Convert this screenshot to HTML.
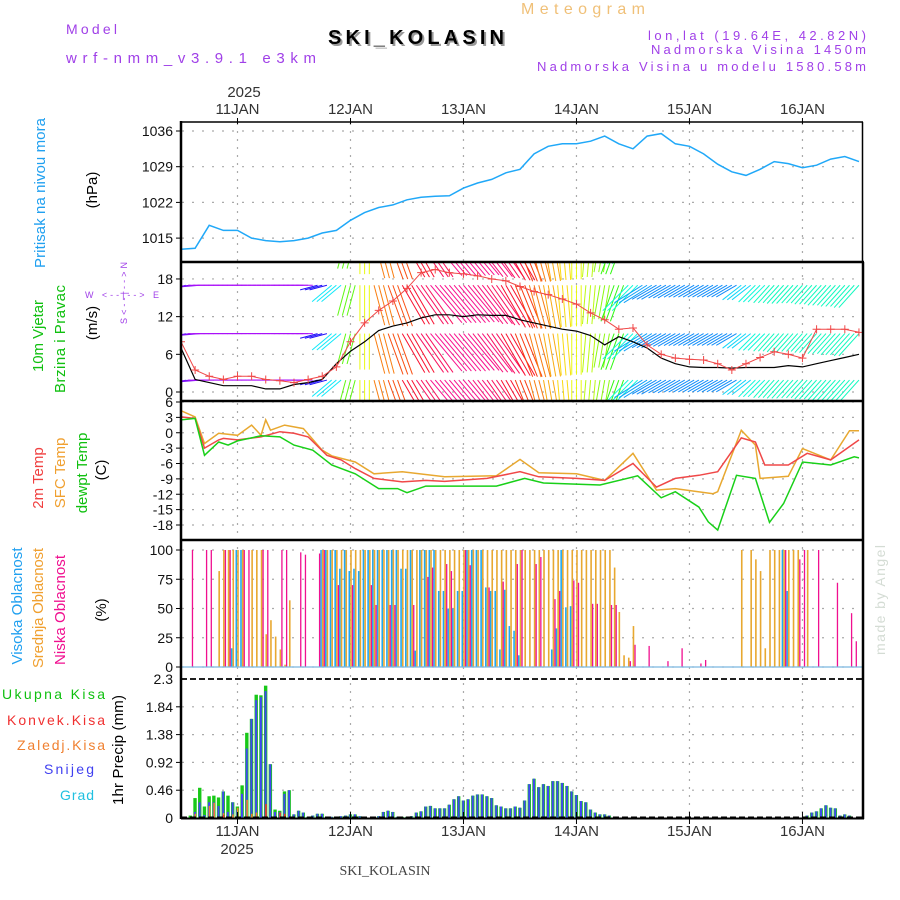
<!DOCTYPE html>
<html><head><meta charset="utf-8">
<style>
html,body{margin:0;padding:0;background:#fff;}
svg{display:block;font-family:"Liberation Sans",sans-serif;}
</style></head>
<body>
<svg id="chart" width="900" height="900" viewBox="0 0 900 900" xmlns="http://www.w3.org/2000/svg">
<defs>
<clipPath id="clipWind"><rect x="182" y="263" width="680" height="137"/></clipPath>
<clipPath id="clipAll"><rect x="182" y="122" width="680" height="696"/></clipPath>
</defs>
<g id="gridLayer"></g>
<g id="dataLayer"></g>
<g id="frameLayer"></g>
<g id="textLayer" font-family="Liberation Sans, sans-serif">
  <text x="66" y="34" font-size="14" fill="#a040e8" textLength="51">Model</text>
  <text x="66" y="63" font-size="15" fill="#a040e8" textLength="250">wrf-nmm_v3.9.1 e3km</text>
  <text x="521" y="14" font-size="16" fill="#f0c078" textLength="124">Meteogram</text>
  <text x="330" y="46" font-size="20" font-weight="bold" fill="#999" textLength="176">SKI_KOLASIN</text>
  <text x="328" y="44" font-size="20" font-weight="bold" fill="#000" textLength="176">SKI_KOLASIN</text>
  <text x="866" y="40" font-size="13" fill="#a040e8" text-anchor="end" textLength="218">lon,lat (19.64E, 42.82N)</text>
  <text x="866" y="54" font-size="13" fill="#a040e8" text-anchor="end" textLength="215">Nadmorska Visina 1450m</text>
  <text x="866" y="71" font-size="13" fill="#a040e8" text-anchor="end" textLength="329">Nadmorska Visina u modelu 1580.58m</text>

  <text transform="translate(45,193) rotate(-90)" text-anchor="middle" font-size="15" fill="#20a0f0" textLength="150">Pritisak na nivou mora</text>
  <text transform="translate(97,190) rotate(-90)" text-anchor="middle" font-size="15" fill="#000">(hPa)</text>

  <text transform="translate(43,336) rotate(-90)" text-anchor="middle" font-size="15" fill="#10c010" textLength="72">10m Vjetar</text>
  <text transform="translate(65,339) rotate(-90)" text-anchor="middle" font-size="15" fill="#10c010" textLength="108">Brzina i Pravac</text>
  <text transform="translate(97,323) rotate(-90)" text-anchor="middle" font-size="15" fill="#000">(m/s)</text>
  <text x="85" y="298" font-size="9" fill="#a040e8" textLength="74">W  &lt;--|--&gt;  E</text>
  <text transform="translate(127,293) rotate(-90)" text-anchor="middle" font-size="9" fill="#a040e8" textLength="62">S&lt;--|--&gt;N</text>

  <text transform="translate(43,478) rotate(-90)" text-anchor="middle" font-size="15" fill="#f04040">2m Temp</text>
  <text transform="translate(65,473) rotate(-90)" text-anchor="middle" font-size="15" fill="#f0a030">SFC Temp</text>
  <text transform="translate(87,473) rotate(-90)" text-anchor="middle" font-size="15" fill="#10c010">dewpt Temp</text>
  <text transform="translate(106,470) rotate(-90)" text-anchor="middle" font-size="15" fill="#000">(C)</text>

  <text transform="translate(22,606) rotate(-90)" text-anchor="middle" font-size="15" fill="#20a0f0" textLength="117">Visoka Oblacnost</text>
  <text transform="translate(43,608) rotate(-90)" text-anchor="middle" font-size="15" fill="#f0a030" textLength="120">Srednja Oblacnost</text>
  <text transform="translate(65,610) rotate(-90)" text-anchor="middle" font-size="15" fill="#f01090" textLength="110">Niska Oblacnost</text>
  <text transform="translate(106,610) rotate(-90)" text-anchor="middle" font-size="15" fill="#000">(%)</text>

  <text x="105" y="699" font-size="14" fill="#10c010" text-anchor="end" textLength="103">Ukupna Kisa</text>
  <text x="105" y="725" font-size="14" fill="#f03030" text-anchor="end" textLength="98">Konvek.Kisa</text>
  <text x="105" y="750" font-size="14" fill="#f08030" text-anchor="end" textLength="88">Zaledj.Kisa</text>
  <text x="94" y="774" font-size="14" fill="#4040f0" text-anchor="end" textLength="50">Snijeg</text>
  <text x="94" y="800" font-size="14" fill="#20c0e0" text-anchor="end" textLength="34">Grad</text>
  <text transform="translate(123,750) rotate(-90)" text-anchor="middle" font-size="15" fill="#000" textLength="110">1hr Precip (mm)</text>

  <text transform="translate(885,600) rotate(-90)" text-anchor="middle" font-size="14" fill="#d4dcd4" textLength="110">made by Angel</text>
  <text x="244" y="97" font-size="15" fill="#333" text-anchor="middle">2025</text>
  <text x="237" y="854" font-size="15" fill="#333" text-anchor="middle">2025</text>
  <text x="385" y="875" font-size="14" fill="#444" text-anchor="middle" font-family="Liberation Serif, serif">SKI_KOLASIN</text>
</g>
</svg>
<script>
// ---- data (time in hours from 10JAN 12Z) ----
const dayLabels = ["11JAN","12JAN","13JAN","14JAN","15JAN","16JAN"];
const dayHours = [12,36,60,84,108,132];
const pressureTicks = [1015,1022,1029,1036];
const windTicks = [0,6,12,18];
const tempTicks = [6,3,0,-3,-6,-9,-12,-15,-18];
const cloudTicks = [0,25,50,75,100];
const precipTicks = [0,0.46,0.92,1.38,1.84,2.3];
const precipTickLabels = ["0","0.46","0.92","1.38","1.84","2.3"];

const hours3 = [0,3,6,9,12,15,18,21,24,27,30,33,36,39,42,45,48,51,54,57,60,63,66,69,72,75,78,81,84,87,90,93,96,99,102,105,108,111,114,117,120,123,126,129,132,135,138,141,144];
const pressure = [1012.8,1013,1017.5,1016.5,1016.5,1015,1014.5,1014.3,1014.5,1015,1016,1016.5,1018.5,1020,1021,1021.5,1022.5,1023,1023.2,1023.3,1024.8,1025.8,1026.5,1027.8,1028.5,1031.5,1033,1033.5,1033.5,1034,1035,1033.5,1032.5,1035,1035.5,1033.5,1033,1031.5,1029.5,1028,1027.3,1028.5,1030,1029.6,1028.8,1029.3,1030.5,1031,1030];
const windSpeed = [7,2,1.5,1,1,1,0.5,0.5,1.2,1.5,2,4.5,6.5,8,9.8,10.5,11,11.8,12.3,12.3,12,12.3,12.2,12.2,11.5,11,10.5,10,9.7,9,7.5,8.8,8,7,5.4,4.5,4,3.9,3.9,3.8,3.9,3.9,3.9,4.2,4,4.5,5,5.5,6];
const windGust = [8,3.5,2.5,2,2.5,2.5,2,1.8,1.5,2,2.5,4,8,11,13,14.5,16.5,19,19.5,19,18.8,18.5,18,17.7,16.8,16,15.5,14.8,14,12.6,11.5,10,10.2,7.5,6,5.4,5.2,5.1,4.5,3.5,4.5,5.5,6.4,6,5.4,10,10,10,9.5];
const windDir = [250,265,270,270,270,270,270,270,270,270,255,230,195,180,165,160,150,145,140,140,140,142,145,150,158,165,170,175,180,185,190,200,225,238,240,240,240,240,240,240,232,225,222,222,222,222,222,222,222];
const windRows = [24.5,17,9.3,1.9];

const t2mHours = [0,3,5,8,9,12,17,21,24,27,31,34,37,41,47,52,56,65,72,76,84,90,96,101,105,110,114,119,122,124,129,133,138,144];
const t2m = [3.1,2.8,-3,-1.4,-1.1,-1.4,-0.8,0.2,-0.1,-0.8,-4.4,-5.3,-7,-8.9,-9.6,-9.3,-9.5,-8.9,-7.6,-8.6,-8.9,-9.3,-6,-10.6,-8.9,-8.3,-7.6,-1,-1.8,-6.3,-6.3,-4,-5.3,-1.4];
const sfcHours = [0,3,5,8,12,15,17,18,19,22,26,30,32,37,41,47,56,67,72,76,84,90,96,101,105,113,114,119,122,123,129,132,138,142,144];
const sfcTemp = [4.3,3.1,-2.1,-0.1,-0.5,1.5,-0.5,2.5,0.5,1.5,0.8,-3.4,-4.5,-5.7,-8,-7.6,-8.6,-8.4,-5.2,-7.8,-8,-9.3,-4,-11.2,-10.9,-11.9,-11.5,0.5,-2.4,-8.9,-8.5,-3.1,-5.3,0.4,0.4];
const dewHours = [0,3,5,8,10,12,17,21,24,28,32,37,42,46,48,52,60,67,73,77,89,97,102,105,110,112,114,118,122,125,128,132,138,143,144];
const dewTemp = [2.5,2.8,-4.4,-1.8,-2.4,-1.6,-0.6,-0.8,-2.4,-3.4,-6.3,-8,-10.9,-10.9,-11.7,-10.4,-10.4,-10.4,-8.9,-9.8,-10.2,-8.4,-12.7,-11.5,-14.5,-17.4,-19,-8.3,-8.9,-17.5,-13.8,-5.7,-6.3,-4.7,-4.9];

const lowHours = [2,5,6,9,10,13,14,17,18,21,22,25,26,29,30,33,36,40,41,44,45,49,52,53,56,57,60,61,65,68,71,72,75,76,79,80,83,84,87,88,91,92,95,96,99,103,106,110,111,128,131,132,135,139,142,143];
const lowCloud = [100,100,100,100,100,100,100,100,100,100,100,98,96,97,100,70,70,70,53,53,53,53,77,85,88,82,100,87,68,73,88,100,88,94,58,65,74,72,54,54,53,53,5,19,18,5,16,3,6,100,92,100,100,72,46,22];
const midCloud = [0,0,0,0,0,0,0,0,82,100,100,100,100,100,0,100,100,100,28,40,26,15,2,57,0,0,0,0,0,0,
100,100,100,100,100,100,100,100,100,100,100,100,100,100,100,100,100,100,100,100,100,100,100,100,100,100,100,100,100,100,
100,100,100,100,100,100,100,100,100,100,100,100,100,100,100,100,100,100,100,100,100,100,100,100,100,100,100,100,100,100,
100,100,85,47,10,8,35,0,0,0,0,0,0,0,0,0,0,0,0,0,0,0,0,0,0,0,0,0,0,100,
0,100,92,82,16,100,100,100,100,100,100,100,0,100,0,0,0,0,0,0,0,0,0,0,0];
const highHours = [11,12,13,30,31,32,33,34,35,36,37,38,39,40,41,42,43,44,45,46,47,48,49,50,51,52,53,54,55,56,57,58,59,60,61,62,63,64,65,66,67,68,69,70,71,72,79,80,81,82,83,128,129];
const highCloud = [16,100,100,100,100,100,100,84,100,82,84,82,100,100,100,100,100,100,100,100,84,84,100,14,100,100,100,100,65,65,50,50,65,65,100,100,100,100,68,65,65,15,66,35,31,10,15,33,100,51,52,100,65];

const precipTotal = [0,0,0.04,0.33,0.5,0.19,0.36,0.37,0.34,0.44,0.37,0.26,0.19,0.54,1.41,1.64,2.04,2.03,2.19,0.89,0.14,0.12,0.44,0.46,0.06,0.12,0.09,0.02,0.04,0.07,
0.07,0.02,0.02,0.02,0.03,0.04,0.06,0.06,0.03,0.02,0,0,0.03,0.1,0.12,0.1,0.02,0.02,0.02,0.03,0.09,0.11,0.19,0.2,0.16,0.16,0.16,0.22,0.31,0.36,
0.29,0.31,0.37,0.39,0.39,0.36,0.33,0.21,0.19,0.16,0.16,0.19,0.17,0.29,0.56,0.65,0.51,0.56,0.53,0.61,0.61,0.58,0.53,0.44,0.38,0.28,0.26,0.14,0.09,0.06,
0.06,0.04,0,0,0,0,0,0,0,0,0,0,0,0,0,0,0,0,0,0,0,0,0,0,0,0,0,0,0,0,
0,0,0,0,0,0,0,0,0,0,0,0,0,0.04,0.09,0.11,0.16,0.21,0.17,0.16,0.04,0.06,0.04,0,0];
const precipSnow = [0,0,0,0.1,0.26,0.05,0.26,0.26,0.2,0.44,0.1,0.26,0.13,0.4,1.15,1.64,1.95,2.0,2.1,0.89,0.1,0.1,0.4,0.46,0.06,0.12,0.09,0.02,0.04,0.07,
0.07,0.02,0.02,0.02,0.03,0.04,0.06,0.06,0.03,0.02,0,0,0.03,0.1,0.12,0.1,0.02,0.02,0.02,0.03,0.09,0.11,0.19,0.2,0.16,0.16,0.16,0.22,0.31,0.36,
0.29,0.31,0.37,0.39,0.39,0.36,0.33,0.21,0.19,0.16,0.16,0.19,0.17,0.29,0.56,0.65,0.51,0.56,0.53,0.61,0.61,0.58,0.53,0.44,0.38,0.28,0.26,0.14,0.09,0.06,
0.06,0.04,0,0,0,0,0,0,0,0,0,0,0,0,0,0,0,0,0,0,0,0,0,0,0,0,0,0,0,0,
0,0,0,0,0,0,0,0,0,0,0,0,0,0.04,0.09,0.11,0.16,0.21,0.17,0.16,0.04,0.06,0.04,0,0];
const frozenHours = [3,6,7,9,11,12,14,15,16];
const frozenVals = [0.07,0.2,0.25,0.08,0.06,0.17,0.3,0.07,0.09];
const convHours = [9,18,21,22];
const convVals = [0.05,0.23,0.09,0.07];

// ---- scales ----
const X = t => 181 + t*4.708;
const YP = p => 131 + (1036-p)*5.1;
const YW = v => 392 - v*6.28;
const YT = c => 402 + (6-c)*5.125;
const YC = c => 667 - c*1.17;
const YR = p => 818 - p*60.43;

const NS = "http://www.w3.org/2000/svg";
function mk(tag, attrs, parent){
  const e = document.createElementNS(NS, tag);
  for (const k in attrs) e.setAttribute(k, attrs[k]);
  parent.appendChild(e);
  return e;
}
const grid = document.getElementById('gridLayer');
const data = document.getElementById('dataLayer');
const frame = document.getElementById('frameLayer');
const txt = document.getElementById('textLayer');

// horizontal grids + tick labels
function hgrid(ticks, yf, labels, name){
  ticks.forEach((v,i)=>{
    const y = yf(v);
    const l = mk('line',{x1:182,x2:862,y1:y,y2:y,stroke:'#aaa','stroke-width':1.2,'stroke-dasharray':'2 8'},grid);
    
    
    const tk = mk('line',{x1:176,x2:181,y1:y,y2:y,stroke:'#000','stroke-width':1},frame);
    
    
    const t = mk('text',{x:173,y:y+5,'font-size':14,fill:'#111','text-anchor':'end'},txt);
    t.textContent = labels ? labels[i] : String(v);
    
    
  });
}
hgrid(pressureTicks, YP, null, 'pressure');
hgrid(windTicks, YW, null, 'wind');
hgrid(tempTicks, YT, null, 'temp');
hgrid(cloudTicks, YC, null, 'cloud');
hgrid(precipTicks.slice(1,5), YR, precipTickLabels.slice(1,5), 'precip');
[0,5].forEach(i=>{
  const t = mk('text',{x:173,y:YR(precipTicks[i])+5,'font-size':14,fill:'#111','text-anchor':'end'},txt);
  t.textContent = precipTickLabels[i];
  
  
});

// vertical grids + date labels
dayHours.forEach((h,i)=>{
  const x = X(h);
  const l = mk('line',{x1:x,x2:x,y1:123,y2:817,stroke:'#aaa','stroke-width':1.2,'stroke-dasharray':'2 6'},grid);
  
  
  [[118,124],[812,824]].forEach(p=>{
    const tk = mk('line',{x1:x,x2:x,y1:p[0],y2:p[1],stroke:'#000','stroke-width':1},frame);
    
    
  });
  const t1 = mk('text',{x:x,y:114,'font-size':15,fill:'#333','text-anchor':'middle'},txt);
  t1.textContent = dayLabels[i];
  
  
  const t2 = mk('text',{x:x,y:836,'font-size':15,fill:'#333','text-anchor':'middle'},txt);
  t2.textContent = dayLabels[i];
  
  
});

function pathOf(ts, vs, yf){
  return ts.map((t,i)=>(i?'L':'M')+X(t).toFixed(1)+','+yf(vs[i]).toFixed(1)).join(' ');
}

// pressure
const pp = mk('path',{d:pathOf(hours3,pressure,YP),fill:'none',stroke:'#20a8f8','stroke-width':1.5},data);



// wind arrows
const wg = mk('g',{'clip-path':'url(#clipWind)'},data);


function dirColor(d){ const h = ((280 - (270-d)*2.4) % 360 + 360) % 360; return 'hsl('+h.toFixed(0)+',95%,52%)'; }
for (let h=0; h<=144; h++){
  const k = Math.round(h/3);
  const d = windDir[k]*Math.PI/180;
  const L = 12 + windSpeed[k]*3;
  windRows.forEach(r=>{
    const x0 = X(h), y0 = YW(r);
    const x1 = x0 + L*Math.sin(d), y1 = y0 - L*Math.cos(d);
    const a = mk('line',{x1:x0,y1:y0,x2:x1,y2:y1,stroke:dirColor(windDir[k]),'stroke-width':1},wg);
    
    
  });
}
const wl = mk('path',{d:pathOf(hours3,windSpeed,YW),fill:'none',stroke:'#000','stroke-width':1.2,'clip-path':'url(#clipWind)'},data);


const gl = mk('path',{d:pathOf(hours3,windGust,YW),fill:'none',stroke:'#f04848','stroke-width':1,'clip-path':'url(#clipWind)'},data);


hours3.forEach((t,i)=>{
  const x = X(t), y = YW(windGust[i]);
  const m = mk('path',{d:`M${x-4},${y}H${x+4}M${x},${y-4}V${y+4}`,stroke:'#f04848','stroke-width':1,'clip-path':'url(#clipWind)'},data);
  
  
});

// temperature
[[sfcHours,sfcTemp,'#e8a830','sfc-temp-line'],[t2mHours,t2m,'#f04848','temp-2m-line'],[dewHours,dewTemp,'#18d018','dewpoint-line']].forEach(s=>{
  const p = mk('path',{d:pathOf(s[0],s[1],YT),fill:'none',stroke:s[2],'stroke-width':1.5},data);
  
  
});

// clouds
highHours.forEach((h,i)=>{
  const b = mk('rect',{x:X(h)-2,y:YC(highCloud[i]),width:1.6,height:YC(0)-YC(highCloud[i]),fill:'#20a8f0'},data);
  
  
});
midCloud.forEach((v,h)=>{
  if (!v) return;
  const b = mk('rect',{x:X(h)-0.3,y:YC(v),width:1.6,height:YC(0)-YC(v),fill:'#e8a830'},data);
  
  
});
lowHours.forEach((h,i)=>{
  const b = mk('rect',{x:X(h)+1.4,y:YC(lowCloud[i]),width:1.3,height:YC(0)-YC(lowCloud[i]),fill:'#f01090'},data);
  
  
});
const cb = mk('line',{x1:182,x2:862,y1:YC(0),y2:YC(0),stroke:'#7ab8e0','stroke-width':1.2},data);



// precipitation
precipTotal.forEach((v,h)=>{
  if (!v) return;
  const b = mk('rect',{x:X(h)-1.8,y:YR(v),width:3.4,height:YR(0)-YR(v),fill:'#18c818'},data);
  
  
});
precipSnow.forEach((v,h)=>{
  if (!v) return;
  const b = mk('rect',{x:X(h)-1.2,y:YR(v),width:2,height:YR(0)-YR(v),fill:'#4048f0'},data);
  
  
});
frozenHours.forEach((h,i)=>{
  const b = mk('rect',{x:X(h)-0.6,y:YR(frozenVals[i]),width:1.6,height:YR(0)-YR(frozenVals[i]),fill:'#f08030'},data);
  
  
});
convHours.forEach((h,i)=>{
  const b = mk('rect',{x:X(h)-0.6,y:YR(convVals[i]),width:1.6,height:YR(0)-YR(convVals[i]),fill:'#f03030'},data);
  
  
});

// frame
function fl(x1,y1,x2,y2,w,name,dash){
  const a = {x1,y1,x2,y2,stroke:'#000','stroke-width':w};
  if (dash) a['stroke-dasharray'] = dash;
  const l = mk('line',a,frame);
  
  
}
fl(181,122,863,122,1.5,'top-border');
fl(862.5,122,862.5,262,1.5,'right-border-top');
fl(181,262,864,262,2.5,'panel-border');
fl(181,401,864,401,2.5,'panel-border');
fl(181,540,864,540,2.5,'panel-border');
fl(181,679,864,679,1.8,'precip-top-line','6 3');
fl(181,817.5,864,817.5,2,'precip-zero-line','6 3');
fl(181,818.5,864,818.5,2,'bottom-border');
fl(181,121,181,819,2.5,'left-axis');
fl(863,262,863,819,2.5,'right-axis');
</script>
</body></html>
